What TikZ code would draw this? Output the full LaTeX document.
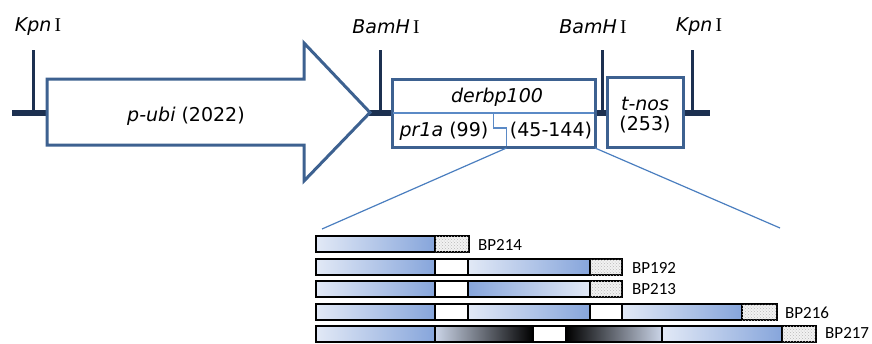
\documentclass[tikz,border=0pt]{standalone}
\usepackage{fontspec}
\setmainfont{DejaVu Sans}
\newfontfamily\romanI{Liberation Serif}
\newfontfamily\bpfont{Carlito}
\usetikzlibrary{patterns}

\definecolor{navy}{HTML}{1C3050}
\definecolor{steel}{HTML}{3D6190}
\definecolor{zoomblue}{HTML}{4A7EBF}
\definecolor{divblue}{HTML}{5B8AC6}
\definecolor{bllight}{HTML}{E2E9F6}
\definecolor{bldark}{HTML}{86A5DB}
\definecolor{greyblue}{HTML}{CBD5E8}

\tikzset{
  backbone/.style={draw=navy, line width=6pt},
  site/.style={draw=navy, line width=3pt},
  part/.style={draw=steel, line width=3pt, fill=white, line join=miter},
  zoomline/.style={draw=zoomblue, line width=1.2pt},
  divline/.style={draw=divblue, line width=1.2pt},
  lbl/.style={inner sep=0pt, font=\fontsize{19}{22}\selectfont},
  sitelbl/.style={inner sep=0pt, font=\fontsize{19}{22}\selectfont},
  seg/.style={draw=black, line width=2.2pt},
  bluebar/.style={seg, left color=bllight, right color=bldark},
  bluerev/.style={seg, left color=bldark, right color=bllight},
  darkbar/.style={seg, left color=greyblue, right color=black},
  darkrev/.style={seg, left color=black, right color=greyblue},
  gapbar/.style={seg, fill=white},
  tailbar/.style={seg, fill=gray!10, postaction={pattern=crosshatch dots, pattern color=gray!55}},
  bplbl/.style={anchor=west, inner sep=0pt, font=\bpfont\fontsize{17}{19}\selectfont},
}

\newcommand{\site}[1]{\textit{#1}\,{\romanI\fontsize{19.5}{22}\selectfont I}}

\begin{document}
\begin{tikzpicture}[x=1pt, y=-1pt]
\useasboundingbox (0,0) rectangle (872,343);
\clip (0,0) rectangle (872,343);

% plasmid backbone
\draw[backbone] (12,112.5) -- (710,112.5);

% restriction sites
\draw[site] (33,50) -- (33,112);
\draw[site] (380,50) -- (380,112);
\draw[site] (602,50) -- (602,112);
\draw[site] (692,50) -- (692,112);
\node[sitelbl] (kpn1) at (38,27) {\site{Kpn}};
\node[sitelbl] (bam1) at (386,27) {\site{BamH}};
\node[sitelbl] (bam2) at (593,27) {\site{BamH}};
\node[sitelbl] (kpn2) at (699,27) {\site{Kpn}};

% ubiquitin promoter arrow
\draw[part] (47,79) -- (304,79) -- (304,43) -- (370,112.5) -- (304,181)
  -- (304,145) -- (47,145) -- cycle;
\node[lbl] (pubi) at (186,116) {\textit{p-ubi} (2022)};

% derbp100 fusion box
\draw[part] (392,79) rectangle (595,147);
\draw[divline] (393,113) -- (594,113);
\draw[divline] (493.5,113) -- (493.5,128) -- (506.5,128) -- (506.5,146);
\coordinate (stepfoot) at (506.5,148);
\coordinate (boxcorner) at (595,148);
\node[lbl] (derbp) at (497,97) {\textit{derbp100}};
\node[lbl] (pr1a) at (444,131) {\textit{pr1a} (99)};
\node[lbl] (range) at (551,131) {(45-144)};

% nos terminator box
\draw[part] (607,77) rectangle (683,147);
\node[lbl, align=center] (tnos) at (645,115) {\textit{t-nos}\\[-2pt](253)};

% construct bars
\coordinate (barsL) at (322,229);
\coordinate (barsR) at (780,228);
\draw[zoomline] (stepfoot) -- (barsL);
\draw[zoomline] (boxcorner) -- (barsR);

% BP214
\draw[bluebar] (316,236) rectangle (435,252);
\draw[tailbar] (435,236) rectangle (469,252);
\node[bplbl] (bp214) at (478,244.5) {BP214};

% BP192
\draw[bluebar] (316,259) rectangle (435,275);
\draw[gapbar] (435,259) rectangle (468,275);
\draw[bluebar] (468,259) rectangle (590,275);
\draw[tailbar] (590,259) rectangle (622,275);
\node[bplbl] (bp192) at (632,267.5) {BP192};

% BP213
\draw[bluebar] (316,281) rectangle (435,297);
\draw[gapbar] (435,281) rectangle (468,297);
\draw[bluerev] (468,281) rectangle (590,297);
\draw[tailbar] (590,281) rectangle (622,297);
\node[bplbl] (bp213) at (632,289.5) {BP213};

% BP216
\draw[bluebar] (316,304) rectangle (435,320);
\draw[gapbar] (435,304) rectangle (468,320);
\draw[bluebar] (468,304) rectangle (590,320);
\draw[gapbar] (590,304) rectangle (622,320);
\draw[bluebar] (622,304) rectangle (742,320);
\draw[tailbar] (742,304) rectangle (777,320);
\node[bplbl] (bp216) at (785,312.5) {BP216};

% BP217
\draw[bluebar] (316,326) rectangle (435,342);
\draw[darkbar] (435,326) rectangle (533,342);
\draw[gapbar] (533,326) rectangle (566,342);
\draw[darkrev] (566,326) rectangle (662,342);
\draw[bluebar] (662,326) rectangle (782,342);
\draw[tailbar] (782,326) rectangle (816,342);
\node[bplbl] (bp217) at (825,333) {BP217};
\end{tikzpicture}
\end{document}
